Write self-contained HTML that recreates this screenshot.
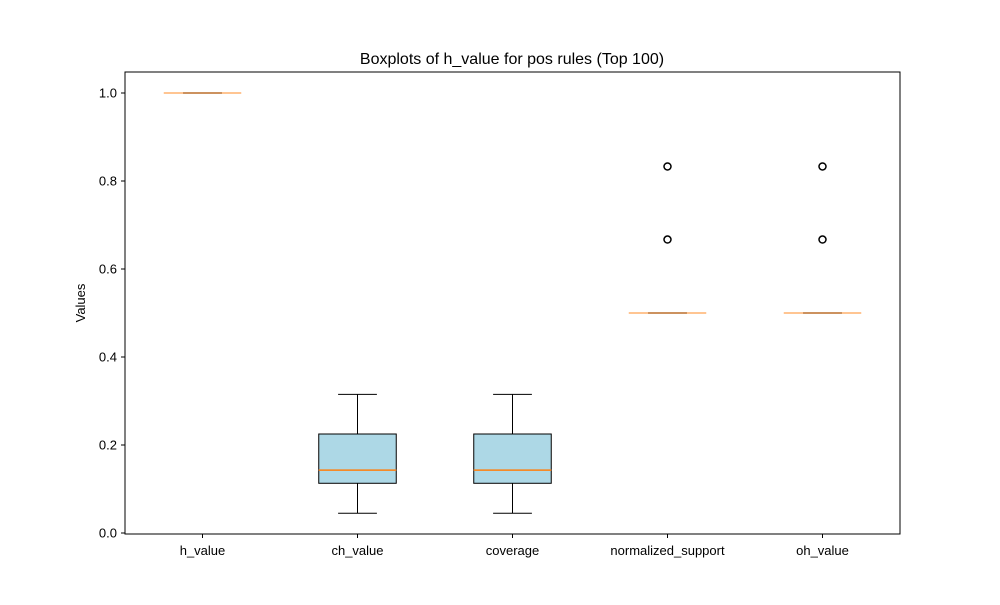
<!DOCTYPE html>
<html><head><meta charset="utf-8"><style>
body{margin:0;background:#fff}
text{font-family:"Liberation Sans",sans-serif;fill:#000}
</style></head><body>
<svg id="chart" width="1000" height="600" xmlns="http://www.w3.org/2000/svg">
<rect width="1000" height="600" fill="#fff"/>
<text x="512" y="64" font-size="16" text-anchor="middle">Boxplots of h_value for pos rules (Top 100)</text>
<text transform="translate(85,303) rotate(-90)" font-size="13" text-anchor="middle">Values</text>
<g id="marks"></g>
<rect x="125" y="72" width="775" height="462" fill="none" stroke="#000" stroke-width="1"/>
<g id="axes"></g>
</svg>
<script>
const categories=["h_value","ch_value","coverage","normalized_support","oh_value"];
const whiskLo=[1.0,0.045,0.045,0.5,0.5];
const q1=[1.0,0.113,0.113,0.5,0.5];
const med=[1.0,0.143,0.143,0.5,0.5];
const q3=[1.0,0.225,0.225,0.5,0.5];
const whiskHi=[1.0,0.315,0.315,0.5,0.5];
const outliers=[[],[],[],[0.667,0.833],[0.667,0.833]];
const filled=[true,true,true,true,true];
const yTicks=[0.0,0.2,0.4,0.6,0.8,1.0];
const NS="http://www.w3.org/2000/svg";
const sx=i=>125+(i+1-0.5)*155;
const sy=v=>533-v*440;
const marks=document.getElementById('marks'),axes=document.getElementById('axes');
function mk(tag,attrs,parent){const e=document.createElementNS(NS,tag);for(const k in attrs)e.setAttribute(k,attrs[k]);parent.appendChild(e);return e;}
categories.forEach((c,i)=>{
  const x=sx(i),hw=38.75,cw=19.4;
  const g=mk('g',{},marks);
  
  
  mk('line',{x1:x,x2:x,y1:sy(q1[i]),y2:sy(whiskLo[i]),stroke:'#000'},g);
  mk('line',{x1:x,x2:x,y1:sy(q3[i]),y2:sy(whiskHi[i]),stroke:'#000'},g);
  mk('line',{x1:x-cw,x2:x+cw,y1:sy(whiskLo[i]),y2:sy(whiskLo[i]),stroke:'#000'},g);
  mk('line',{x1:x-cw,x2:x+cw,y1:sy(whiskHi[i]),y2:sy(whiskHi[i]),stroke:'#000'},g);
  mk('rect',{x:x-hw,y:sy(q3[i]),width:2*hw,height:Math.max(0,sy(q1[i])-sy(q3[i])),fill:filled[i]?'#add8e6':'none',stroke:'#000'},g);
  const m=mk('line',{x1:x-hw,x2:x+hw,y1:sy(med[i]),y2:sy(med[i]),stroke:'#ff7f0e','stroke-width':1.5},g);
  if(q1[i]===q3[i]) m.setAttribute('stroke-opacity','0.6');
  outliers[i].forEach(v=>{
    const o=mk('circle',{cx:x,cy:sy(v),r:3.5,fill:'none',stroke:'#000','stroke-width':1.5},g);
    
    
  });
  mk('line',{x1:x,x2:x,y1:534,y2:538,stroke:'#000'},axes);
  const t=mk('text',{x:x,y:555,'font-size':13,'text-anchor':'middle'},axes);
  t.textContent=c;
  
  
});
yTicks.forEach(v=>{
  const y=sy(v);
  mk('line',{x1:121,x2:125,y1:y,y2:y,stroke:'#000'},axes);
  const t=mk('text',{x:117,y:y+4.5,'font-size':13,'text-anchor':'end'},axes);
  t.textContent=v.toFixed(1);
  
  
});
</script>
</body></html>
